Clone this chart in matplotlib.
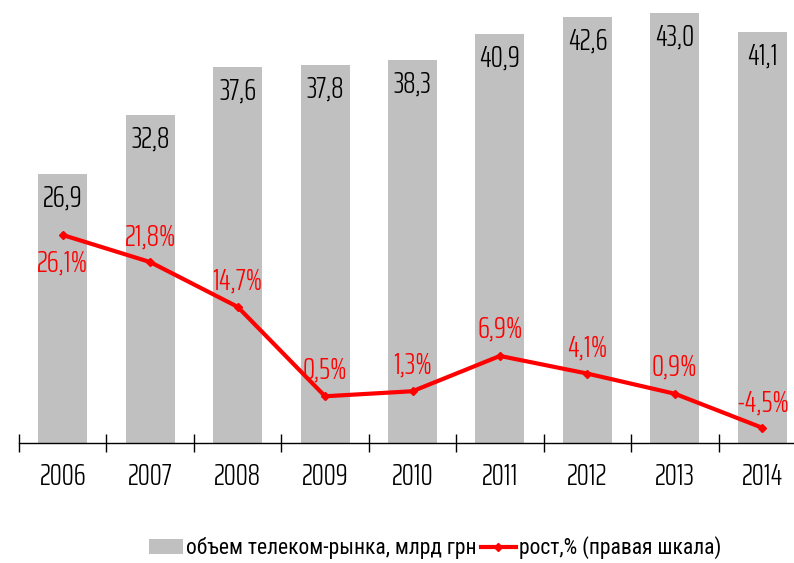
import numpy as np
import matplotlib.pyplot as plt

NUM_FONT = ["Saira ExtraCondensed", "DejaVu Sans"]
LEG_FONT = ["Roboto Condensed", "DejaVu Sans"]

years = ["2006", "2007", "2008", "2009", "2010", "2011", "2012", "2013", "2014"]
volume = [26.9, 32.8, 37.6, 37.8, 38.3, 40.9, 42.6, 43.0, 41.1]
growth = [26.1, 21.8, 14.7, 0.5, 1.3, 6.9, 4.1, 0.9, -4.5]
# label offsets (pixels) for growth labels
g_off = [(0, -28), (0, 25), (0, 26), (0, 26), (0, 26), (0, 27), (0, 25), (0, 27), (0, 25)]

x = np.arange(len(years))

fig = plt.figure(figsize=(7.94, 5.63), dpi=100)
ax = fig.add_axes([19 / 794, 120.3 / 563, 787 / 794, 442.7 / 563])
ax.bar(x, volume, width=0.56, color="#c0c0c0", label="объем телеком-рынка, млрд грн")
ax.set_xlim(-0.5, len(years) - 0.5)
ax.set_ylim(0, 44.27)
for s in ["top", "right", "left"]:
    ax.spines[s].set_visible(False)
ax.spines["bottom"].set_linewidth(1)
ax.set_yticks([])
ax.set_xticks(x)
ax.set_xticklabels(years, fontsize=22, family=NUM_FONT, weight=300)
ax.tick_params(axis="x", which="major", length=0, pad=14)
ax.set_xticks(np.arange(-0.5, len(years), 1), minor=True)
ax.tick_params(axis="x", which="minor", direction="inout", length=13.5, width=1)

for xi, v in zip(x, volume):
    ax.annotate(f"{v:.1f}".replace(".", ","), (xi, v), xytext=(0, -24),
                textcoords="offset pixels", ha="center", va="center",
                fontsize=22, family=NUM_FONT, weight=300, color="black")

ax2 = ax.twinx()
ax2.set_ylim(-6.87, 63.4)
ax2.plot(x, growth, color="#ff0000", lw=3, marker="D", ms=4,
         label="рост,% (правая шкала)")
for s in ax2.spines.values():
    s.set_visible(False)
ax2.set_yticks([])
for xi, g, off in zip(x, growth, g_off):
    ax2.annotate(f"{g:.1f}%".replace(".", ","), (xi, g), xytext=off,
                 textcoords="offset pixels", ha="center", va="center",
                 fontsize=22, family=NUM_FONT, weight=300, color="#ff0000")

h1, l1 = ax.get_legend_handles_labels()
h2, l2 = ax2.get_legend_handles_labels()
fig.legend(h1 + h2, l1 + l2, loc="center", bbox_to_anchor=(435 / 794, 1 - 548 / 563),
           ncol=2, frameon=False, prop={"family": LEG_FONT, "size": 15.5},
           handlelength=1.6, handletextpad=0.15, columnspacing=0.2)

fig.savefig("out.png", dpi=100)
